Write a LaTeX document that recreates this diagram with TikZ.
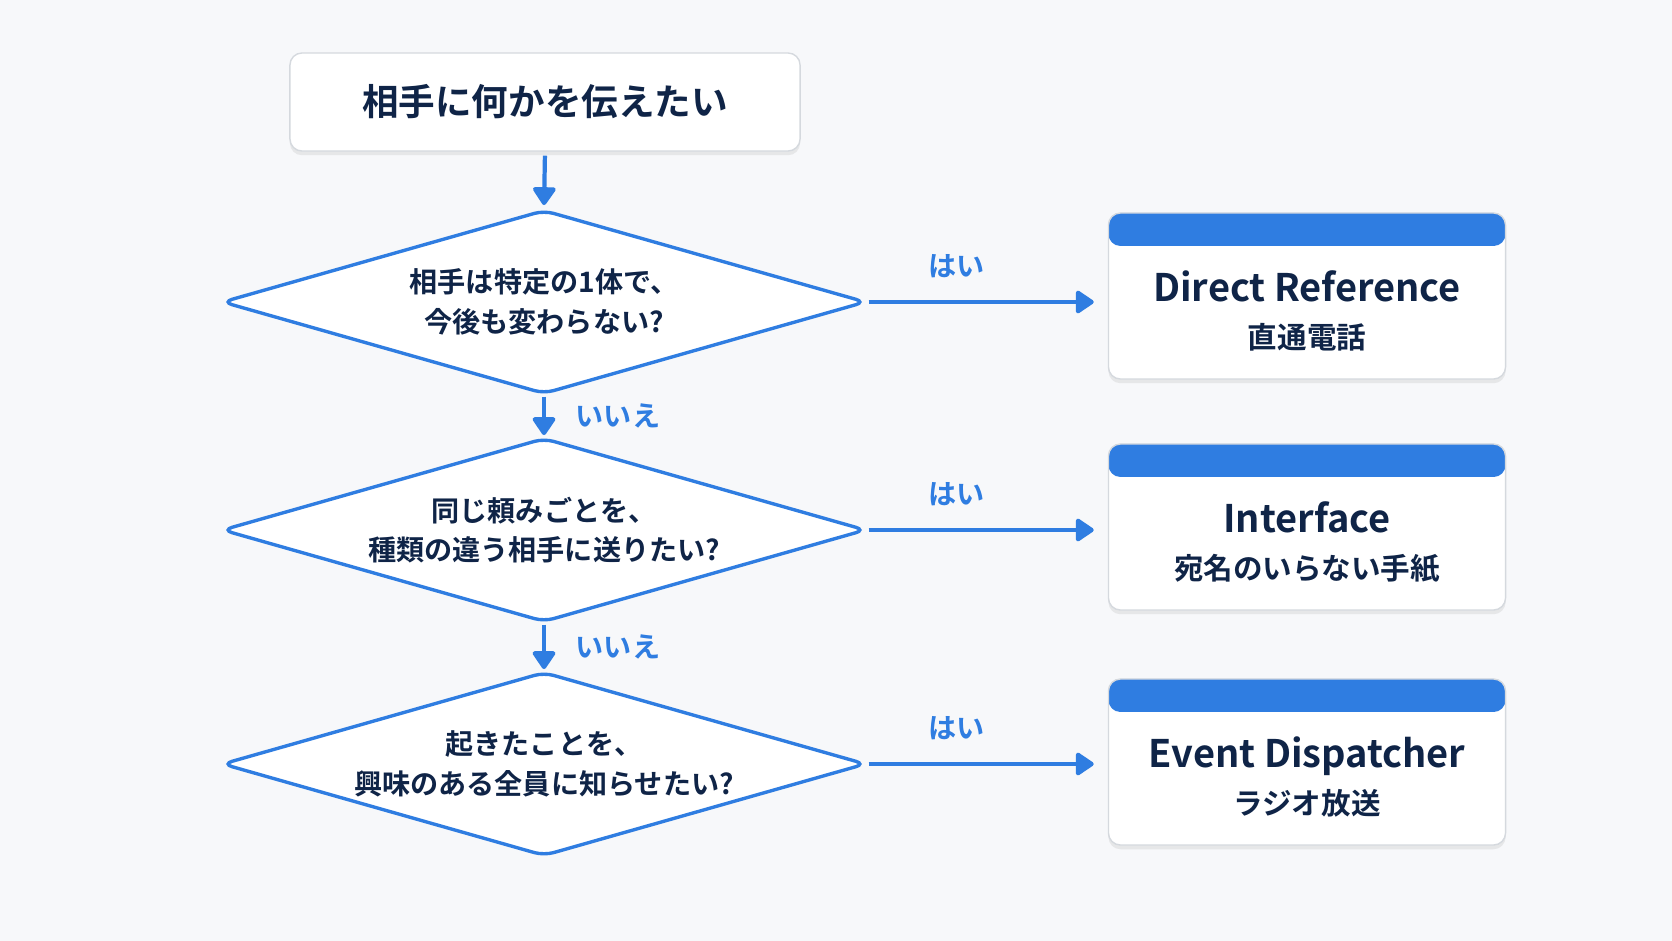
\documentclass[tikz,border=0pt]{standalone}
\usepackage{fontspec}
\setmainfont{Noto Sans CJK JP}[BoldFont={Noto Sans CJK JP Bold}]
\usetikzlibrary{shapes.geometric,arrows.meta,shadows}
\definecolor{bg}{HTML}{F7F8FA}
\definecolor{fcblue}{HTML}{2F7DE1}
\definecolor{navy}{HTML}{0F2447}
\definecolor{edgegray}{HTML}{D5D9DE}
\begin{document}
\begin{tikzpicture}[x=0.025cm,y=-0.025cm,
  card/.style={draw=edgegray, line width=1pt, fill=white, rounded corners=0.3cm,
    drop shadow={opacity=0.14, shadow xshift=0pt, shadow yshift=-3pt}},
  startbox/.style={card, minimum width=12.75cm, minimum height=2.45cm,
    font=\bfseries\fontsize{26}{30}\selectfont, text=navy},
  decision/.style={diamond, draw=fcblue, line width=2.4pt, fill=white, rounded corners=7pt,
    minimum width=16.1cm, minimum height=4.6cm, aspect=3.5, inner sep=0pt,
    align=center, font=\bfseries\fontsize{20}{28}\selectfont, text=navy},
  result/.style={card, minimum width=9.925cm, minimum height=4.15cm,
    path picture={\fill[fcblue] (path picture bounding box.north west) rectangle ([yshift=-0.825cm]path picture bounding box.north east);}},
  restitle/.style={anchor=base, text=navy, inner sep=0pt, font=\bfseries\fontsize{27}{32}\selectfont},
  ressub/.style={anchor=base, text=navy, inner sep=0pt, font=\bfseries\fontsize{21}{26}\selectfont},
  flow/.style={draw=fcblue, line width=3pt, -{Triangle[width=18pt,length=14pt,round]}},
  answer/.style={text=fcblue, font=\bfseries\fontsize{20}{24}\selectfont}
]
\fill[bg] (0,0) rectangle (1672,941);
\useasboundingbox (0,0) rectangle (1672,941);

\node[startbox] (start) at (545,102) {相手に何かを伝えたい};

\node[decision] (d1) at (544,302) {相手は特定の1体で、\\今後も変わらない?};
\node[decision] (d2) at (544,530) {同じ頼みごとを、\\種類の違う相手に送りたい?};
\node[decision] (d3) at (544,764) {起きたことを、\\興味のある全員に知らせたい?};

\node[result] (r1) at (1307,296) {};
\node[result] (r2) at (1307,527) {};
\node[result] (r3) at (1307,762) {};

\node[restitle] (t1) at ([yshift=-0.14cm]r1.center) {Direct Reference};
\node[ressub] (s1) at ([yshift=-1.3cm]r1.center) {直通電話};
\node[restitle] (t2) at ([yshift=-0.14cm]r2.center) {Interface};
\node[ressub] (s2) at ([yshift=-1.3cm]r2.center) {宛名のいらない手紙};
\node[restitle] (t3) at ([yshift=-0.14cm]r3.center) {Event Dispatcher};
\node[ressub] (s3) at ([yshift=-1.3cm]r3.center) {ラジオ放送};

\draw[flow, shorten <=0.1cm, shorten >=0.08cm] (start.south) -- (d1.north);
\draw[flow, shorten <=0.02cm, shorten >=0.03cm] (d1.south) -- node[answer, xshift=1.85cm] {いいえ} (d2.north);
\draw[flow, shorten <=0.02cm, shorten >=0.03cm] (d2.south) -- node[answer, xshift=1.85cm] {いいえ} (d3.north);

\draw[flow, shorten <=0.02cm, shorten >=0.35cm] (d1.east) -- node[answer, pos=0.37, yshift=0.9cm] {はい} (d1.east -| r1.west);
\draw[flow, shorten <=0.02cm, shorten >=0.35cm] (d2.east) -- node[answer, pos=0.37, yshift=0.9cm] {はい} (d2.east -| r2.west);
\draw[flow, shorten <=0.02cm, shorten >=0.35cm] (d3.east) -- node[answer, pos=0.37, yshift=0.9cm] {はい} (d3.east -| r3.west);
\end{tikzpicture}
\end{document}
